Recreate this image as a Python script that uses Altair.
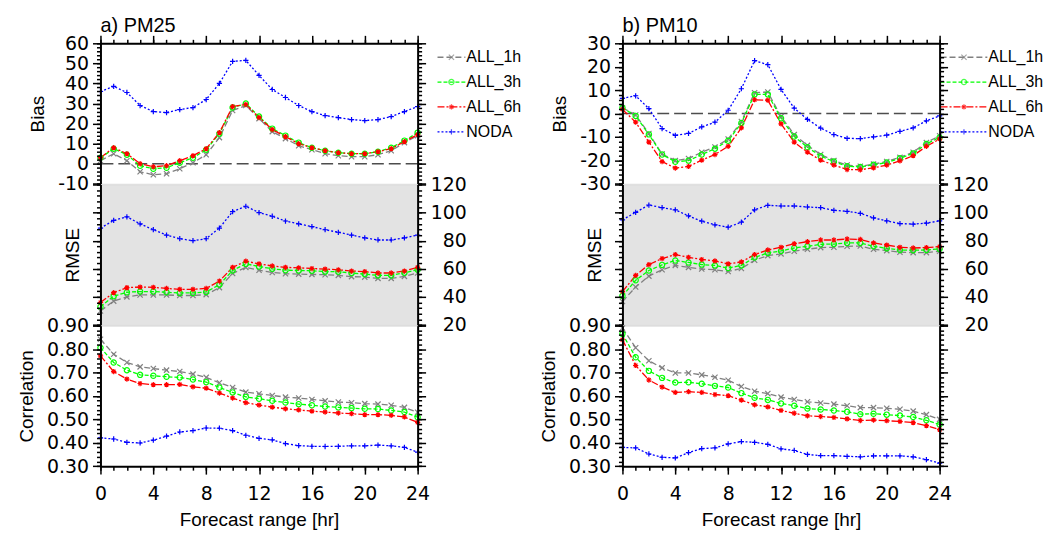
import altair as alt
import pandas as pd

hours = list(range(25))
series = ["ALL_1h", "ALL_3h", "ALL_6h", "NODA"]
colors = ["#808080", "#00ff00", "#ff0000", "#0000ff"]
dashes = [[6, 3], [4, 2], [7, 2, 2, 2], [2, 2]]
X_PATH = "M-1,-1L1,1M-1,1L1,-1"
PLUS_PATH = "M-1,0L1,0M0,-1L0,1"
STAR_PATH = "M-1,0L1,0M0,-1L0,1M-0.7,-0.7L0.7,0.7M-0.7,0.7L0.7,-0.7"
shapes = [X_PATH, "circle", STAR_PATH, PLUS_PATH]

# ---- PM25 ----
pm25_bias_1h = [1.5, 5, 1.5, -4, -5.5, -5, -2.5, 0.5, 4.5, 13, 26.5, 29, 22.5, 16, 12.5, 9, 7, 5, 4, 3.5, 3.5, 4.5, 6.5, 10.5, 14]
pm25_bias_3h = [3, 7.5, 4.5, -1, -2.5, -2, 0.5, 3, 7, 15, 28, 30, 23.5, 17.5, 14, 10.5, 8, 6.5, 5.5, 5, 5, 6, 8, 11.5, 15.5]
pm25_bias_6h = [3, 8, 5, 0, -1.5, -1, 1.5, 4, 7.5, 15.5, 28.5, 29.5, 23, 17, 13.5, 10, 8, 6.5, 5.5, 5, 5, 6, 7.5, 11, 14.5]
pm25_bias_noda = [36, 38.5, 35.5, 29, 26, 25.5, 27, 28, 32, 40, 51, 51.5, 44, 37, 33, 29, 26, 24, 23, 22, 21.5, 22, 23.5, 26, 28.5]

pm25_rmse_1h = [30, 37, 40, 41.4, 41.4, 41.4, 41, 41, 41.6, 46.6, 56.7, 61, 59, 57.4, 56.5, 56.2, 56, 55.8, 55.3, 54.4, 54.1, 53.2, 53.2, 54.6, 57]
pm25_rmse_3h = [33, 40.5, 43.3, 43.8, 43.8, 43.3, 42.8, 42.8, 43.5, 48.7, 58.8, 63.5, 61.6, 60, 59, 58.8, 58.6, 58, 57.9, 57, 56.2, 55.3, 55.3, 57.2, 59.3]
pm25_rmse_6h = [36, 43, 46.6, 47, 46.8, 46, 45.4, 45.4, 46, 51.3, 61, 65.4, 63.5, 62, 61, 60.7, 60.2, 59.8, 59.3, 58.4, 58, 57, 57, 58.4, 61]
pm25_rmse_noda = [89, 94.4, 97, 92, 87.8, 84, 81.4, 80, 81.4, 89, 100.7, 104.5, 100, 97.4, 94, 92, 90, 87.8, 86, 84, 82, 80.5, 80.5, 82, 84]

pm25_corr_1h = [0.842, 0.778, 0.743, 0.724, 0.717, 0.710, 0.704, 0.693, 0.679, 0.656, 0.636, 0.616, 0.609, 0.602, 0.595, 0.591, 0.585, 0.579, 0.574, 0.571, 0.567, 0.565, 0.560, 0.551, 0.530]
pm25_corr_3h = [0.806, 0.743, 0.710, 0.690, 0.686, 0.682, 0.679, 0.670, 0.659, 0.636, 0.615, 0.596, 0.588, 0.579, 0.572, 0.565, 0.560, 0.555, 0.551, 0.548, 0.545, 0.544, 0.538, 0.531, 0.509]
pm25_corr_6h = [0.771, 0.704, 0.672, 0.653, 0.648, 0.648, 0.649, 0.639, 0.633, 0.612, 0.591, 0.571, 0.561, 0.552, 0.545, 0.540, 0.535, 0.531, 0.527, 0.524, 0.520, 0.520, 0.517, 0.510, 0.487]
pm25_corr_noda = [0.421, 0.416, 0.402, 0.399, 0.411, 0.428, 0.446, 0.452, 0.463, 0.462, 0.452, 0.432, 0.419, 0.412, 0.396, 0.388, 0.385, 0.384, 0.385, 0.387, 0.387, 0.390, 0.387, 0.380, 0.360]

# ---- PM10 ----
pm10_bias_1h = [2.5, -0.6, -8.5, -17.3, -20.1, -19.2, -16.5, -14.3, -10.9, -3.4, 8.9, 9.2, -1.3, -9, -13.6, -17.5, -20.1, -22, -22.5, -21.6, -20.5, -18.7, -16.5, -12.4, -9.5]
pm10_bias_3h = [2.5, -1, -8.9, -17.5, -20.6, -20.1, -17.5, -15, -11.6, -4, 8.2, 8.2, -2, -9.8, -14.4, -18.2, -20.5, -22.5, -22.8, -21.9, -20.9, -19.1, -17, -13, -10.2]
pm10_bias_6h = [1.8, -3.7, -12.2, -20.5, -23.3, -22.6, -19.9, -17.5, -14, -6.1, 5.9, 5.7, -4.4, -12.2, -16.5, -19.9, -22, -23.9, -24, -23.2, -22, -20.2, -18, -14, -10.9]
pm10_bias_noda = [6.5, 7.6, 2.1, -6.4, -9.3, -8.5, -5.7, -3.7, 1.4, 10.6, 22.6, 20.9, 10.3, 2.3, -2.5, -6.2, -9, -10.6, -10.7, -10, -9.2, -7.6, -6.1, -3.1, -1]

pm10_rmse_1h = [36.7, 47, 54.8, 59.3, 62.4, 61, 59.8, 59.3, 58.1, 60.2, 66.1, 69.4, 70.6, 72.5, 73.9, 75.1, 75.3, 76, 76.2, 73.9, 72.9, 71.8, 71.5, 71.5, 72.5]
pm10_rmse_3h = [40.7, 51.8, 58.8, 62.8, 65.9, 64.5, 63, 62.4, 60.5, 62.4, 68, 71.3, 72.7, 74.8, 76, 77.4, 77.6, 78.4, 78.4, 76, 74.6, 73.4, 73.2, 73.4, 74.1]
pm10_rmse_6h = [43.8, 55.3, 63, 67.3, 70.1, 68.2, 66.6, 65.6, 63.5, 64.9, 70.1, 73.4, 75.3, 77.9, 79.3, 80.5, 80.5, 81.2, 80.9, 78.4, 76.9, 75.3, 74.8, 75.1, 75.8]
pm10_rmse_noda = [94.8, 100.2, 105.4, 103.5, 102, 97.6, 93.9, 91.3, 89.6, 93.2, 102, 105.2, 104.7, 104.7, 104, 103.5, 101.6, 100.9, 99.5, 96.2, 94.1, 92.2, 91.8, 92.5, 94.1]

pm10_corr_1h = [0.890, 0.806, 0.750, 0.720, 0.698, 0.698, 0.690, 0.680, 0.667, 0.640, 0.620, 0.610, 0.595, 0.585, 0.575, 0.570, 0.565, 0.558, 0.550, 0.550, 0.547, 0.543, 0.535, 0.520, 0.500]
pm10_corr_3h = [0.865, 0.765, 0.707, 0.677, 0.657, 0.658, 0.652, 0.643, 0.636, 0.612, 0.592, 0.583, 0.568, 0.558, 0.546, 0.542, 0.538, 0.532, 0.522, 0.524, 0.520, 0.516, 0.510, 0.496, 0.478]
pm10_corr_6h = [0.840, 0.730, 0.668, 0.638, 0.615, 0.618, 0.615, 0.606, 0.601, 0.582, 0.562, 0.553, 0.538, 0.526, 0.515, 0.512, 0.508, 0.502, 0.495, 0.497, 0.494, 0.491, 0.486, 0.473, 0.456]
pm10_corr_noda = [0.380, 0.378, 0.352, 0.338, 0.335, 0.358, 0.375, 0.378, 0.395, 0.405, 0.402, 0.393, 0.374, 0.367, 0.350, 0.345, 0.345, 0.342, 0.340, 0.344, 0.344, 0.344, 0.340, 0.328, 0.313]

x_major = [0, 4, 8, 12, 16, 20, 24]
corr_major = [0.3, 0.4, 0.5, 0.6, 0.7, 0.8, 0.9]
corr_minor = [round(0.3 + 0.02 * i, 2) for i in range(31)]
rmse_major = [20, 40, 60, 80, 100, 120]
rmse_minor = list(range(20, 121, 4))

FONT = "Liberation Sans"
LFONT = "DejaVu Sans"
W, H = 319, 141.3

color_scale = alt.Scale(domain=series, range=colors)
dash_scale = alt.Scale(domain=series, range=dashes)
shape_scale = alt.Scale(domain=series, range=shapes)

AX = dict(domainColor="black", tickColor="black", tickWidth=1.5, grid=False,
          labelOverlap=False, labelFlush=False, zindex=1,
          labelFont=LFONT, titleFont=FONT, labelFontSize=19, titleFontSize=19,
          labelColor="black", titleColor="black", titleFontWeight="normal")


def long_df(lists):
    rows = []
    for s, vals in zip(series, lists):
        for h, v in zip(hours, vals):
            rows.append({"hour": h, "value": v, "series": s})
    return pd.DataFrame(rows)


def y_axes(major, minor, title, left_labels, right_labels, expr, tpad):
    lm = dict(orient="left", values=major, title=title, tickSize=8, domain=True,
              domainWidth=2, labelPadding=4, titlePadding=tpad, labels=left_labels, **AX)
    if left_labels:
        lm["labelExpr"] = expr
    rm = dict(orient="right", values=major, title=None, tickSize=8, domain=True,
              domainWidth=2, labels=right_labels, labelAlign="right", labelPadding=41, **AX)
    if right_labels:
        rm["labelExpr"] = expr
    lmin = dict(orient="left", values=minor, title=None, tickSize=4, domain=False, labels=False, **AX)
    rmin = dict(orient="right", values=minor, title=None, tickSize=4, domain=False, labels=False, **AX)
    return [alt.Axis(**lm), alt.Axis(**rm), alt.Axis(**lmin), alt.Axis(**rmin)]


def x_axes(kind):
    if kind == "top":
        return [alt.Axis(orient="top", values=x_major, title=None, labels=False, tickSize=8,
                         domain=True, domainWidth=2, **AX),
                alt.Axis(orient="top", values=hours, title=None, labels=False, tickSize=4,
                         domain=False, **AX)]
    if kind == "bottom":
        return [alt.Axis(orient="bottom", values=x_major, title="Forecast range [hr]", tickSize=8,
                         domain=True, domainWidth=2, labelPadding=11, titlePadding=7, **AX),
                alt.Axis(orient="bottom", values=hours, title=None, labels=False, tickSize=4,
                         domain=False, **AX)]
    return [None, None]


def subplot(df, ydom, yax, xax, before=(), after=()):
    xs = alt.Scale(domain=[0, 24], nice=False, zero=False)
    ys = alt.Scale(domain=ydom, nice=False, zero=False)
    base = alt.Chart(df)

    def X(ax):
        return alt.X("hour:Q", scale=xs, axis=ax)

    def Y(ax):
        return alt.Y("value:Q", scale=ys, axis=ax)

    col = alt.Color("series:N", scale=color_scale, legend=None)
    lines = base.mark_line(strokeWidth=1.3).encode(
        x=X(xax[0]), y=Y(yax[0]), color=col,
        strokeDash=alt.StrokeDash("series:N", scale=dash_scale, legend=None))
    pts = base.mark_point(filled=False, size=28, strokeWidth=1.2, opacity=1).encode(
        x=X(xax[1]), y=Y(yax[1]), color=col,
        shape=alt.Shape("series:N", scale=shape_scale, legend=None))
    m3 = base.mark_point(opacity=0).encode(x=X(None), y=Y(yax[2]))
    m4 = base.mark_point(opacity=0).encode(x=X(None), y=Y(yax[3]))
    pre = [b(ys) for b in before]
    post = list(after)
    return alt.layer(*pre, lines, pts, m3, m4, *post).resolve_scale(
        x="independent", y="independent").resolve_axis(x="independent", y="independent").properties(
        width=W, height=H)


def zero_line(ys):
    return alt.Chart(pd.DataFrame({"z": [0]})).mark_rule(
        color="#4d4d4d", strokeWidth=1.5, strokeDash=[12, 5]).encode(
        y=alt.Y("z:Q", scale=ys, axis=None))


def legend_layers(x_range):
    ldf = pd.DataFrame({"series": series})
    lx = alt.Scale(domain=[0, 1], range=x_range, nice=False, zero=False)
    ly = alt.Scale(type="point", domain=series, range=[14, 89], padding=0)
    base = alt.Chart(ldf)
    yenc = alt.Y("series:N", scale=ly, axis=None)
    col = alt.Color("series:N", scale=color_scale, legend=None)
    rule = base.mark_rule(strokeWidth=1.3).encode(
        x=alt.X(datum=0, scale=lx, axis=None), x2=alt.X2(datum=1), y=yenc, color=col,
        strokeDash=alt.StrokeDash("series:N", scale=dash_scale, legend=None))
    pts = base.mark_point(filled=False, size=28, strokeWidth=1.2).encode(
        x=alt.X(datum=0.5, scale=lx, axis=None), y=yenc, color=col,
        shape=alt.Shape("series:N", scale=shape_scale, legend=None))
    txt = base.mark_text(align="left", baseline="middle", fontSize=16, font=FONT, dx=1,
                         color="black").encode(
        x=alt.X(datum=1, scale=lx, axis=None), y=yenc, text="series:N")
    return [rule, pts, txt]


bias_expr = "toString(datum.value)"
corr_expr = "format(datum.value, '.2f')"


def panel(label, bias, rmse, corr, bias_dom, legend_range):
    bias_major = list(range(bias_dom[0], bias_dom[1] + 1, 10))
    bias_minor = list(range(bias_dom[0], bias_dom[1] + 1, 2))
    b = subplot(long_df(bias), bias_dom,
                y_axes(bias_major, bias_minor, "Bias", True, False, bias_expr, 10),
                x_axes("top"), before=[zero_line], after=legend_layers(legend_range)
                ).properties(title=alt.TitleParams(label, anchor="start", frame="group",
                                                   fontSize=20, font=FONT, fontWeight="normal",
                                                   color="black", offset=-2))
    r = subplot(long_df(rmse), [20, 120],
                y_axes(rmse_major, rmse_minor, "RMSE", False, True, bias_expr, 9),
                x_axes("none")).properties(view=alt.ViewBackground(fill="#e3e3e3"))
    c = subplot(long_df(corr), [0.3, 0.9],
                y_axes(corr_major, corr_minor, "Correlation", True, False, corr_expr, 10),
                x_axes("bottom"))
    return alt.vconcat(b, r, c, spacing=0, bounds="flush")


pa = panel("a) PM25",
           [pm25_bias_1h, pm25_bias_3h, pm25_bias_6h, pm25_bias_noda],
           [pm25_rmse_1h, pm25_rmse_3h, pm25_rmse_6h, pm25_rmse_noda],
           [pm25_corr_1h, pm25_corr_3h, pm25_corr_6h, pm25_corr_noda],
           [-10, 60], [339, 367])
pb = panel("b) PM10",
           [pm10_bias_1h, pm10_bias_3h, pm10_bias_6h, pm10_bias_noda],
           [pm10_rmse_1h, pm10_rmse_3h, pm10_rmse_6h, pm10_rmse_noda],
           [pm10_corr_1h, pm10_corr_3h, pm10_corr_6h, pm10_corr_noda],
           [-30, 30], [320, 367])

# with flush bounds the nested column counts as zero width, so the spacing
# includes the panel width
chart = alt.hconcat(pa, pb, spacing=W + 206, bounds="flush").properties(
    padding={"left": 9, "top": 6, "right": 0, "bottom": 0}
).configure_view(strokeWidth=0).configure(font=FONT)

chart.save("out.html", embed_options={"renderer": "svg", "actions": False})
